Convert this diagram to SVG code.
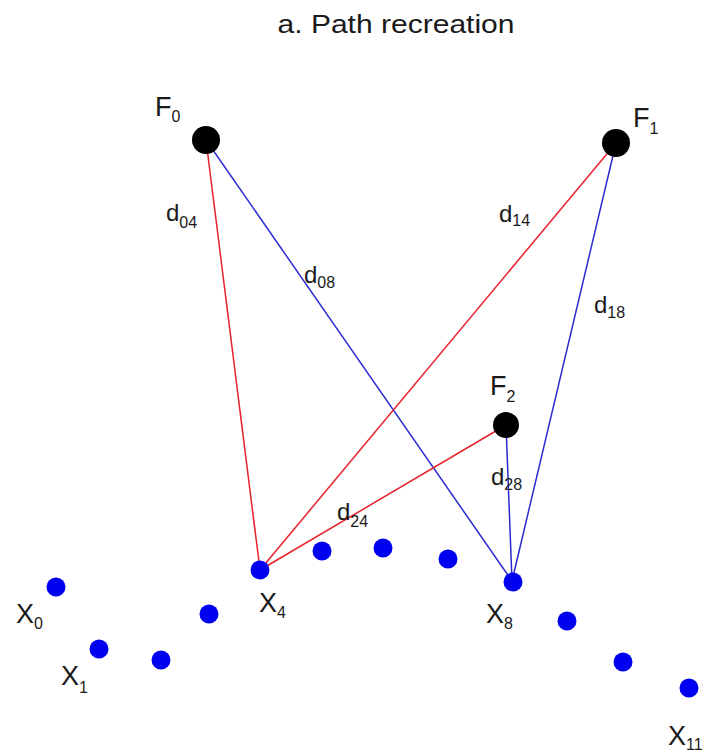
<svg xmlns="http://www.w3.org/2000/svg" width="716" height="756" viewBox="0 0 716 756">
<style>
text{font-family:"Liberation Sans",Arial,sans-serif;fill:#1a1a1a}
.t{font-size:25px}
.lbl{font-size:27px}
.d{font-size:24px}
.s{font-size:16px}
.red{stroke:#e8202a;stroke-width:1.5;fill:none}
.blue{stroke:#2a2ad0;stroke-width:1.5;fill:none}
.f{fill:#000}
.x{fill:#0000f0}
</style>
<rect width="716" height="756" fill="#fff"/>
<text class="t" x="396" y="33" text-anchor="middle" textLength="237" lengthAdjust="spacingAndGlyphs">a. Path recreation</text>
<g id="connectors">
<line class="red" x1="206" y1="140" x2="260" y2="570"/>
<line class="blue" x1="206" y1="140" x2="512" y2="581"/>
<line class="red" x1="616" y1="143" x2="260" y2="570"/>
<line class="blue" x1="616" y1="143" x2="512" y2="581"/>
<line class="red" x1="506" y1="425" x2="260" y2="570"/>
<line class="blue" x1="506" y1="425" x2="512" y2="581"/>
</g>
<g id="edge-labels">
<text x="166" y="221"><tspan class="d">d</tspan><tspan class="s" dy="7">04</tspan></text>
<text x="304" y="283"><tspan class="d">d</tspan><tspan class="s" dy="5">08</tspan></text>
<text x="499" y="222"><tspan class="d">d</tspan><tspan class="s" dy="4">14</tspan></text>
<text x="594" y="313"><tspan class="d">d</tspan><tspan class="s" dy="5">18</tspan></text>
<text x="337" y="520"><tspan class="d">d</tspan><tspan class="s" dy="7">24</tspan></text>
<text x="491" y="485"><tspan class="d">d</tspan><tspan class="s" dy="5">28</tspan></text>
</g>
<g id="F0"><circle class="f" cx="206" cy="140" r="14"/><text x="155" y="116"><tspan class="lbl">F</tspan><tspan class="s" dy="6">0</tspan></text></g>
<g id="F1"><circle class="f" cx="616" cy="143" r="14"/><text x="633" y="127"><tspan class="lbl">F</tspan><tspan class="s" dy="7">1</tspan></text></g>
<g id="F2"><circle class="f" cx="506" cy="425" r="13"/><text x="490" y="395"><tspan class="lbl">F</tspan><tspan class="s" dy="7">2</tspan></text></g>
<g id="X0"><circle class="x" cx="56" cy="587" r="9.5"/><text x="16" y="623"><tspan class="lbl">X</tspan><tspan class="s" dy="6">0</tspan></text></g>
<g id="X1"><circle class="x" cx="99" cy="649" r="9.5"/><text x="61" y="685"><tspan class="lbl">X</tspan><tspan class="s" dy="8">1</tspan></text></g>
<g id="X2"><circle class="x" cx="161" cy="660" r="9.5"/></g>
<g id="X3"><circle class="x" cx="209" cy="614" r="9.5"/></g>
<g id="X4"><circle class="x" cx="260" cy="570" r="9.5"/><text x="259" y="612"><tspan class="lbl">X</tspan><tspan class="s" dy="6">4</tspan></text></g>
<g id="X5"><circle class="x" cx="322" cy="551" r="9.5"/></g>
<g id="X6"><circle class="x" cx="383" cy="548" r="9.5"/></g>
<g id="X7"><circle class="x" cx="448" cy="559" r="9.5"/></g>
<g id="X8"><circle class="x" cx="513" cy="582" r="9.5"/><text x="486" y="623"><tspan class="lbl">X</tspan><tspan class="s" dy="6">8</tspan></text></g>
<g id="X9"><circle class="x" cx="567" cy="621" r="9.5"/></g>
<g id="X10"><circle class="x" cx="623" cy="662" r="9.5"/></g>
<g id="X11"><circle class="x" cx="689" cy="688" r="9.5"/><text x="668" y="745"><tspan class="lbl">X</tspan><tspan class="s" dy="5">11</tspan></text></g>
</svg>
